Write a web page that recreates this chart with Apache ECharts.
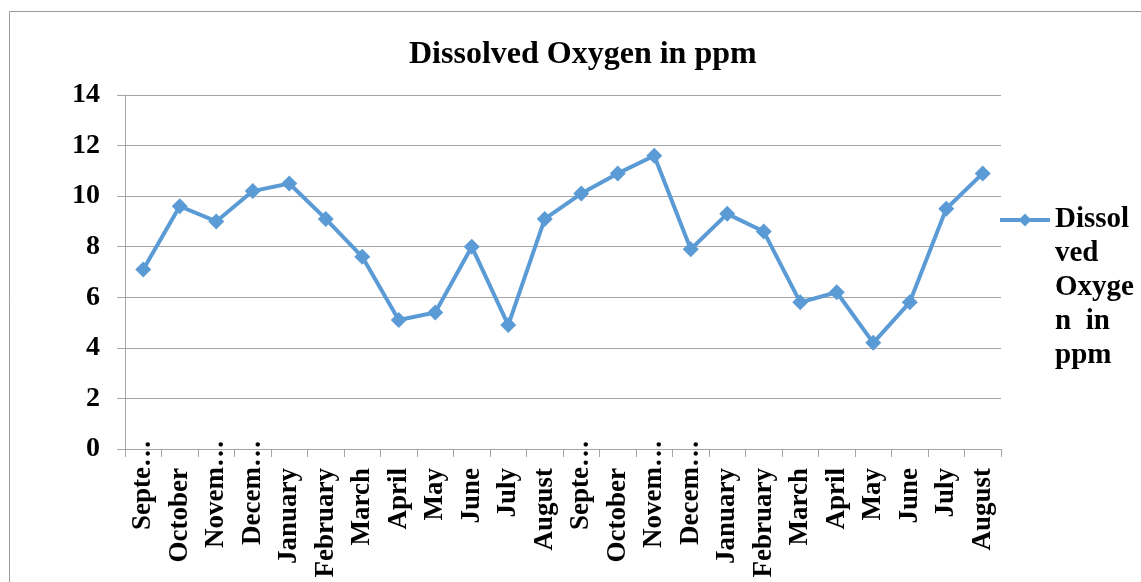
<!DOCTYPE html>
<html>
<head>
<meta charset="utf-8">
<title>Dissolved Oxygen in ppm</title>
<script src="https://cdn.jsdelivr.net/npm/echarts@6/dist/echarts.min.js"></script>
<style>
    html, body { margin: 0; padding: 0; background: #fff; }
    #main { width: 1141px; height: 582px; }
</style>
</head>
<body>
<div id="main"></div>
<script>
// tick labels as printed (Excel cut the long ones)
var months = ['Septe…', 'October', 'Novem…', 'Decem…', 'January', 'February', 'March', 'April',
    'May', 'June', 'July', 'August', 'Septe…', 'October', 'Novem…', 'Decem…', 'January',
    'February', 'March', 'April', 'May', 'June', 'July', 'August'];
var oxygen = [7.1, 9.6, 9.0, 10.2, 10.5, 9.1, 7.6, 5.1, 5.4, 8.0, 4.9, 9.1,
    10.1, 10.9, 11.6, 7.9, 9.3, 8.6, 5.8, 6.2, 4.2, 5.8, 9.5, 10.9];
var yTicks = [0, 2, 4, 6, 8, 10, 12, 14];
var seriesName = 'Dissolved Oxygen in ppm';
var legendLines = ['Dissol', 'ved', 'Oxyge', 'n  in', 'ppm'];

var font = 'Liberation Serif';
var lineBlue = '#5B9BD5';
var gridGray = '#a5a5a5';

var chart = echarts.init(document.getElementById('main'));

chart.setOption({
    animation: false,
    textStyle: { fontFamily: font, color: '#000' },
    title: {
        text: 'Dissolved Oxygen in ppm',
        left: 409,
        top: 39,
        padding: 0,
        textStyle: { fontFamily: font, fontWeight: 'bold', fontSize: 32, color: '#000' }
    },
    graphic: [{
        type: 'rect',
        shape: { x: 9.5, y: 11.5, width: 1200, height: 700 },
        style: { fill: 'none', stroke: '#9a9a9a', lineWidth: 1 },
        silent: true
    }],
    legend: {
        data: [seriesName],
        left: 998,
        top: 67,
        padding: 0,
        itemWidth: 50,
        itemHeight: 16,
        itemGap: 5,
        lineStyle: { width: 4 },
        // blank lines first so the icon sits beside the first real line
        formatter: function () { return '\n\n\n\n' + legendLines.join('\n'); },
        textStyle: {
            fontFamily: font, fontWeight: 'bold', fontSize: 29, color: '#000',
            lineHeight: 34
        }
    },
    grid: { left: 125, right: 140, top: 95, bottom: 133, containLabel: false },
    xAxis: {
        type: 'category',
        data: months,
        boundaryGap: true,
        axisLine: { lineStyle: { color: gridGray, width: 1 } },
        axisTick: { show: true, length: 8, alignWithLabel: false, lineStyle: { color: gridGray } },
        axisLabel: {
            rotate: 90,
            interval: 0,
            margin: 19,
            fontFamily: font, fontWeight: 'bold', fontSize: 27, color: '#000',
            formatter: function (v) {
                return v.indexOf('…') >= 0 ? '{cut|' + v + '}' : v;
            },
            rich: {
                cut: {
                    fontFamily: font, fontWeight: 'bold', fontSize: 27, color: '#000',
                    padding: [0, -28, 0, 0]
                }
            }
        }
    },
    yAxis: {
        type: 'value',
        min: yTicks[0],
        max: yTicks[yTicks.length - 1],
        interval: yTicks[1] - yTicks[0],
        axisLine: { show: true, lineStyle: { color: gridGray, width: 1 } },
        axisTick: { show: true, length: 8, lineStyle: { color: gridGray } },
        splitLine: { show: true, lineStyle: { color: gridGray, width: 1 } },
        axisLabel: {
            margin: 25,
            fontFamily: font, fontWeight: 'bold', fontSize: 28, color: '#000'
        }
    },
    series: [{
        name: seriesName,
        type: 'line',
        data: oxygen,
        symbol: 'diamond',
        symbolSize: 16,
        lineStyle: { color: lineBlue, width: 4 },
        itemStyle: { color: lineBlue },
        z: 3
    }]
});
</script>
</body>
</html>
